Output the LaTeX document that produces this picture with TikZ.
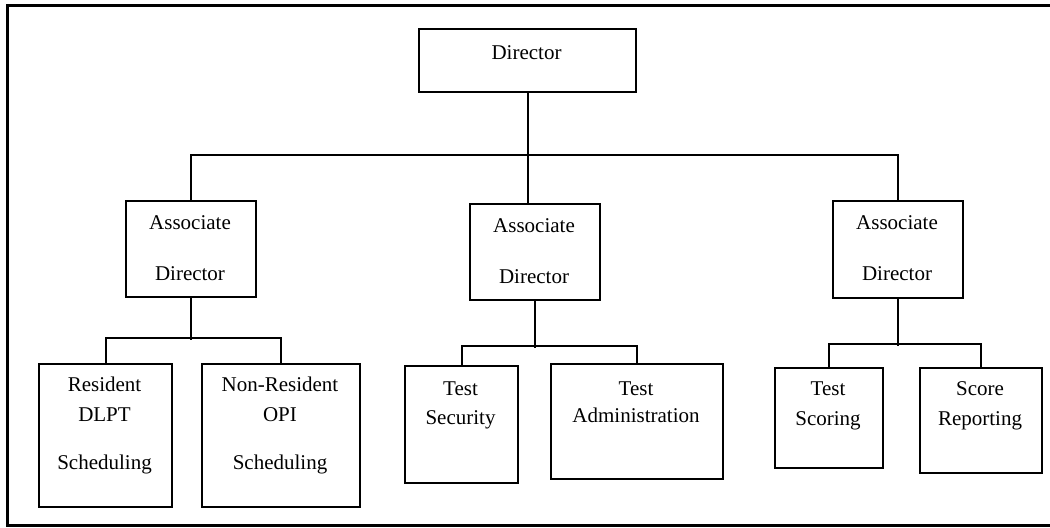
\documentclass[tikz,border=0pt]{standalone}
\usepackage{fontspec}
\setmainfont{Liberation Serif}
\usetikzlibrary{positioning}

\begin{document}
\begin{tikzpicture}[x=0.5pt,y=-0.5pt,
  unit/.style={draw=black, line width=1pt, inner sep=0pt, anchor=north west},
  txt/.style={anchor=north, align=center, inner sep=0pt, font=\fontsize{10.5}{13.5}\selectfont},
  link/.style={draw=black, line width=1pt}]
\path[fill=white,use as bounding box] (0,0) rectangle (1050,527);
% frame
\draw[line width=1.5pt] (1054,5) -- (7,5) -- (7,525) -- (1054,525);
% boxes
\node [unit, minimum width=108.5pt, minimum height=31.5pt] (dir) at (418,28) {};
\node [unit, minimum width=65pt, minimum height=48pt] (ad1) at (125,200) {};
\node [unit, minimum width=65pt, minimum height=48pt] (ad2) at (469,203) {};
\node [unit, minimum width=65pt, minimum height=48.5pt] (ad3) at (832,200) {};
\node [unit, minimum width=66.5pt, minimum height=71.5pt] (res) at (38,363) {};
\node [unit, minimum width=79pt, minimum height=71.5pt] (nonres) at (201,363) {};
\node [unit, minimum width=56.5pt, minimum height=58.5pt] (sec) at (404,365) {};
\node [unit, minimum width=86pt, minimum height=57.5pt] (adm) at (550,363) {};
\node [unit, minimum width=54pt, minimum height=50pt] (scor) at (774,367) {};
\node [unit, minimum width=61pt, minimum height=52.5pt] (rep) at (919,367) {};
% texts
\node [txt] (dir-t) at (526.5,45) {Director};
\node [txt] (ad1-t) at (190,215) {Associate\\[12pt]Director};
\node [txt] (ad2-t) at (534,218) {Associate\\[12pt]Director};
\node [txt] (ad3-t) at (897,215) {Associate\\[12pt]Director};
\node [txt] (res-t) at (104.5,377) {Resident\\[1.5pt]DLPT\\[10.5pt]Scheduling};
\node [txt] (nonres-t) at (280,377) {Non-Resident\\[1.5pt]OPI\\[10.5pt]Scheduling};
\node [txt] (sec-t) at (460.5,381) {Test\\[1pt]Security};
\node [txt] (adm-t) at (636,381) {Test\\Administration};
\node [txt] (scor-t) at (828,381) {Test\\[1.5pt]Scoring};
\node [txt] (rep-t) at (980,381) {Score\\[1.5pt]Reporting};
% links
\draw [link] (dir.south) -- (dir.south |- ad2.north);
\draw [link] (ad1.north) -- ++(0,-45) -| (ad3.north);
\draw [link] (ad1.south) -- ++(0,42);
\draw [link] (res.north) -- ++(0,-25) -| (nonres.north);
\draw [link] (ad2.south) -- ++(0,47);
\draw [link] (sec.north) -- ++(0,-19) -| (adm.north);
\draw [link] (ad3.south) -- ++(0,47);
\draw [link] (scor.north) -- ++(0,-23) -| (rep.north);
\end{tikzpicture}
\end{document}
